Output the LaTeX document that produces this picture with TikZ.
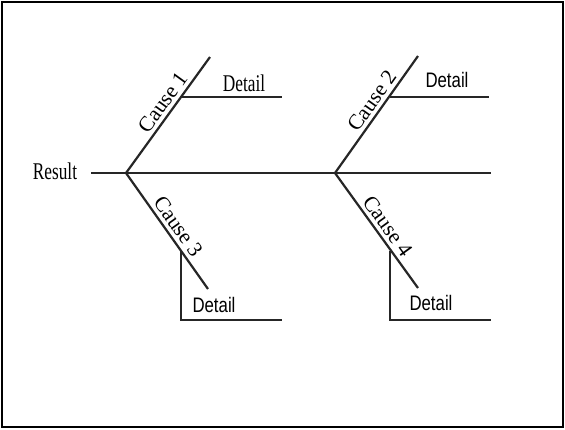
\documentclass[tikz,border=0pt]{standalone}
\usepackage{fontspec}
\setmainfont{Liberation Serif}
\setsansfont{Liberation Sans}
\tikzset{
  bone/.style={draw=black!85, line width=2.2pt},
  serif/.style={inner sep=0pt, font=\fontsize{24}{24}\selectfont},
  sans/.style={inner sep=0pt, font=\sffamily\fontsize{21}{21}\selectfont},
  cause/.style={sloped, above, inner sep=3.5pt, font=\fontsize{21.5}{21.5}\selectfont}
}
\begin{document}
\begin{tikzpicture}[x=1pt, y=-1pt]
\useasboundingbox (0,0) rectangle (565,429);
\draw [line width=2pt] (2,2) rectangle (563,427);
\coordinate (tail) at (91,173);
\coordinate (j1) at (126,173);
\coordinate (j2) at (335,173);
\coordinate (head) at (491,173);
\coordinate (c1) at (210,57);
\coordinate (c2) at (418,56);
\coordinate (c3) at (208,289);
\coordinate (c4) at (418,288);
\coordinate (d1a) at (181,97);
\coordinate (d1b) at (282,97);
\coordinate (d2a) at (390,97);
\coordinate (d2b) at (489,97);
\coordinate (d3a) at (181,251);
\coordinate (d3c) at (181,320);
\coordinate (d3b) at (282,320);
\coordinate (d4a) at (390,251);
\coordinate (d4c) at (390,320);
\coordinate (d4b) at (491,320);
\node (result) at (55,171) [serif] {\scalebox{0.72}[1]{Result}};
\draw [bone] (tail) -- (head);
\draw [bone] (j1) -- node [cause, pos=0.55] (cause1) {Cause 1} (c1);
\draw [bone] (j2) -- node [cause, pos=0.56] (cause2) {Cause 2} (c2);
\draw [bone] (j1) -- node [cause, pos=0.52] (cause3) {Cause 3} (c3);
\draw [bone] (j2) -- node [cause, pos=0.52] (cause4) {Cause 4} (c4);
\draw [bone] (d1a) -- (d1b);
\draw [bone] (d2a) -- (d2b);
\draw [bone] (d3a) -- (d3c) -- (d3b);
\draw [bone] (d4a) -- (d4c) -- (d4b);
\node (detail1) at (244,83) [serif] {\scalebox{0.72}[1]{Detail}};
\node (detail2) at (447,80) [sans] {\scalebox{0.8}[1]{Detail}};
\node (detail3) at (214,305) [sans] {\scalebox{0.8}[1]{Detail}};
\node (detail4) at (431,303) [sans] {\scalebox{0.8}[1]{Detail}};
\end{tikzpicture}
\end{document}
